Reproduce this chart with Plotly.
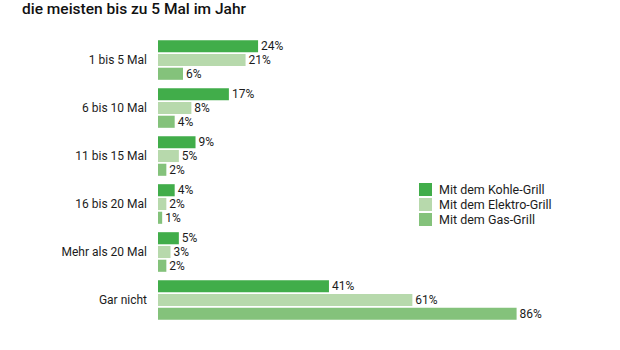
import plotly.graph_objects as go

categories = ["1 bis 5 Mal", "6 bis 10 Mal", "11 bis 15 Mal", "16 bis 20 Mal", "Mehr als 20 Mal", "Gar nicht"]
kohle = [24, 17, 9, 4, 5, 41]
elektro = [21, 8, 5, 2, 3, 61]
gas = [6, 4, 2, 1, 2, 86]
series_names = ["Mit dem Kohle-Grill", "Mit dem Elektro-Grill", "Mit dem Gas-Grill"]
colors = ["#41ad4a", "#b7d9ac", "#84c27b"]
title_text = "die meisten bis zu 5 Mal im Jahr"

FONT = "Roboto"
TXT = "#1c1c1c"
fig = go.Figure()
for name, vals, col in zip(series_names, [kohle, elektro, gas], colors):
    fig.add_trace(go.Bar(
        y=categories, x=vals, name=name, orientation="h",
        marker=dict(color=col, line=dict(width=0)),
        texttemplate="%{x}%", textposition="outside", constraintext="none",
        textfont=dict(family=FONT, size=12, color=TXT),
        cliponaxis=False, showlegend=False,
    ))

# manual legend (compact spacing like the reference)
plot_l, plot_r, plot_t, plot_b = 158, 600, 36, 324
def px_x(p):
    return (p - plot_l) / (plot_r - plot_l)
def px_y(p):
    return (plot_b - p) / (plot_b - plot_t)

shapes, annots = [], []
for i, (name, col) in enumerate(zip(series_names, colors)):
    cy = 189.5 + i * 15
    shapes.append(dict(type="rect", xref="paper", yref="paper",
                       xsizemode="pixel", ysizemode="pixel",
                       xanchor=px_x(419), yanchor=px_y(cy),
                       x0=0, x1=13, y0=-6.5, y1=6.5,
                       fillcolor=col, line=dict(width=0)))
    annots.append(dict(text=name, xref="paper", yref="paper",
                       x=px_x(437), y=px_y(cy), xanchor="left", yanchor="middle",
                       showarrow=False, font=dict(family=FONT, size=12.5, color=TXT)))

fig.update_layout(
    width=620, height=350,
    margin=dict(l=158, r=20, t=36, b=26),
    paper_bgcolor="white", plot_bgcolor="white",
    barmode="group", bargap=0.14, bargroupgap=0.12,
    font=dict(family=FONT, size=12, color=TXT),
    title=dict(text=title_text, x=22/620, xanchor="left", xref="container",
               y=1 - 8.5/350, yanchor="middle", yref="container",
               font=dict(family=FONT, size=15.5, color="#111111", weight=500)),
    xaxis=dict(range=[0, 106], visible=False, fixedrange=True),
    yaxis=dict(categoryorder="array", categoryarray=categories, autorange="reversed",
               showline=False, showgrid=False, ticks="", ticklabelstandoff=10,
               tickfont=dict(family=FONT, size=12, color=TXT)),
    shapes=shapes, annotations=annots,
    showlegend=False,
)
fig.write_html("out.html")
